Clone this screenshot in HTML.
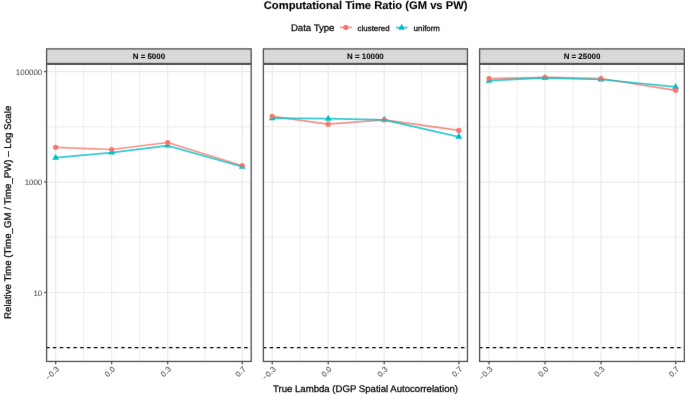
<!DOCTYPE html>
<html><head><meta charset="utf-8"><style>
html,body{margin:0;padding:0;background:#fff;width:685px;height:396px;overflow:hidden}
svg{display:block;font-family:"Liberation Sans",sans-serif;text-rendering:geometricPrecision}
</style></head><body>
<svg width="685" height="396" viewBox="0 0 685 396">
<defs><filter id="bl" color-interpolation-filters="sRGB" x="-5%" y="-5%" width="110%" height="110%"><feConvolveMatrix order="3" kernelMatrix="0.00276 0.04704 0.00276 0.04704 0.80077 0.04704 0.00276 0.04704 0.00276" edgeMode="duplicate" preserveAlpha="false"/></filter></defs>
<rect width="685" height="396" fill="#fff"/>
<g filter="url(#bl)">
<text transform="translate(365.60,8.80)" text-anchor="middle" font-weight="bold" font-size="11.2" fill="#000" stroke="#000" stroke-width="0.08">Computational Time Ratio (GM vs PW)</text>
<text transform="translate(290.90,30.60)" font-size="9.6" fill="#000" stroke="#000" stroke-width="0.25">Data Type</text>
<line x1="340.1" y1="27.4" x2="351.8" y2="27.4" stroke="#F8766D" stroke-width="1.7" stroke-opacity="0.8"/>
<circle cx="345.8" cy="27.4" r="2.55" fill="#F8766D"/>
<text transform="translate(357.60,30.60)" font-size="7.9" fill="#000" stroke="#000" stroke-width="0.25">clustered</text>
<line x1="396.0" y1="27.6" x2="407.5" y2="27.6" stroke="#00BFC4" stroke-width="1.7" stroke-opacity="0.8"/>
<polygon points="401.60,23.85 404.98,29.70 398.22,29.70" fill="#00BFC4"/>
<text transform="translate(413.60,30.60)" font-size="7.9" fill="#000" stroke="#000" stroke-width="0.25">uniform</text>
<line x1="83.63" y1="64.3" x2="83.63" y2="361.45" stroke="#EBEBEB" stroke-width="0.9"/>
<line x1="139.62" y1="64.3" x2="139.62" y2="361.45" stroke="#EBEBEB" stroke-width="0.9"/>
<line x1="204.94" y1="64.3" x2="204.94" y2="361.45" stroke="#EBEBEB" stroke-width="0.9"/>
<line x1="46.6" y1="126.81" x2="251.2" y2="126.81" stroke="#EBEBEB" stroke-width="0.9"/>
<line x1="46.6" y1="237.26" x2="251.2" y2="237.26" stroke="#EBEBEB" stroke-width="0.9"/>
<line x1="46.6" y1="347.71" x2="251.2" y2="347.71" stroke="#EBEBEB" stroke-width="0.9"/>
<line x1="55.63" y1="64.3" x2="55.63" y2="361.45" stroke="#EBEBEB" stroke-width="1.2"/>
<line x1="111.62" y1="64.3" x2="111.62" y2="361.45" stroke="#EBEBEB" stroke-width="1.2"/>
<line x1="167.61" y1="64.3" x2="167.61" y2="361.45" stroke="#EBEBEB" stroke-width="1.2"/>
<line x1="242.27" y1="64.3" x2="242.27" y2="361.45" stroke="#EBEBEB" stroke-width="1.2"/>
<line x1="46.6" y1="71.58" x2="251.2" y2="71.58" stroke="#EBEBEB" stroke-width="1.2"/>
<line x1="46.6" y1="182.03" x2="251.2" y2="182.03" stroke="#EBEBEB" stroke-width="1.2"/>
<line x1="46.6" y1="292.48" x2="251.2" y2="292.48" stroke="#EBEBEB" stroke-width="1.2"/>
<line x1="46.6" y1="347.60" x2="251.2" y2="347.60" stroke="#000" stroke-width="1.1" stroke-dasharray="3.415 3.415" stroke-dashoffset="0.49"/>
<polygon points="55.63,153.75 59.05,159.67 52.21,159.67" fill="#00BFC4"/>
<circle cx="55.63" cy="147.30" r="2.6" fill="#F8766D"/>
<polygon points="111.62,148.65 115.04,154.57 108.20,154.57" fill="#00BFC4"/>
<circle cx="111.62" cy="149.50" r="2.6" fill="#F8766D"/>
<polygon points="167.61,141.65 171.03,147.57 164.19,147.57" fill="#00BFC4"/>
<circle cx="167.61" cy="142.50" r="2.6" fill="#F8766D"/>
<polygon points="242.27,162.85 245.69,168.78 238.85,168.78" fill="#00BFC4"/>
<circle cx="242.27" cy="165.70" r="2.6" fill="#F8766D"/>
<polyline points="55.63,147.30 111.62,149.50 167.61,142.50 242.27,165.70" fill="none" stroke="#F8766D" stroke-width="1.7" stroke-opacity="0.8" stroke-linejoin="round"/>
<polyline points="55.63,157.70 111.62,152.60 167.61,145.60 242.27,166.80" fill="none" stroke="#00BFC4" stroke-width="1.7" stroke-opacity="0.8" stroke-linejoin="round"/>
<rect x="46.6" y="64.3" width="204.60" height="297.15" fill="none" stroke="#505050" stroke-width="1.3"/>
<rect x="46.6" y="48.9" width="204.60" height="14.60" fill="#D9D9D9" stroke="#505050" stroke-width="1.3"/>
<text transform="translate(148.90,59.20)" text-anchor="middle" font-weight="bold" font-size="7.9" fill="#000" stroke="#000" stroke-width="0.05">N = 5000</text>
<line x1="55.63" y1="361.45" x2="55.63" y2="364.15" stroke="#505050" stroke-width="1.3"/>
<text transform="translate(59.63,369.70) rotate(-45)" text-anchor="end" font-size="7.9" fill="#454545" stroke="#454545" stroke-width="0.05">−0.3</text>
<line x1="111.62" y1="361.45" x2="111.62" y2="364.15" stroke="#505050" stroke-width="1.3"/>
<text transform="translate(115.62,369.70) rotate(-45)" text-anchor="end" font-size="7.9" fill="#454545" stroke="#454545" stroke-width="0.05">0.0</text>
<line x1="167.61" y1="361.45" x2="167.61" y2="364.15" stroke="#505050" stroke-width="1.3"/>
<text transform="translate(171.61,369.70) rotate(-45)" text-anchor="end" font-size="7.9" fill="#454545" stroke="#454545" stroke-width="0.05">0.3</text>
<line x1="242.27" y1="361.45" x2="242.27" y2="364.15" stroke="#505050" stroke-width="1.3"/>
<text transform="translate(246.27,369.70) rotate(-45)" text-anchor="end" font-size="7.9" fill="#454545" stroke="#454545" stroke-width="0.05">0.7</text>
<line x1="300.23" y1="64.3" x2="300.23" y2="361.45" stroke="#EBEBEB" stroke-width="0.9"/>
<line x1="356.22" y1="64.3" x2="356.22" y2="361.45" stroke="#EBEBEB" stroke-width="0.9"/>
<line x1="421.54" y1="64.3" x2="421.54" y2="361.45" stroke="#EBEBEB" stroke-width="0.9"/>
<line x1="263.4" y1="126.81" x2="467.45" y2="126.81" stroke="#EBEBEB" stroke-width="0.9"/>
<line x1="263.4" y1="237.26" x2="467.45" y2="237.26" stroke="#EBEBEB" stroke-width="0.9"/>
<line x1="263.4" y1="347.71" x2="467.45" y2="347.71" stroke="#EBEBEB" stroke-width="0.9"/>
<line x1="272.23" y1="64.3" x2="272.23" y2="361.45" stroke="#EBEBEB" stroke-width="1.2"/>
<line x1="328.22" y1="64.3" x2="328.22" y2="361.45" stroke="#EBEBEB" stroke-width="1.2"/>
<line x1="384.21" y1="64.3" x2="384.21" y2="361.45" stroke="#EBEBEB" stroke-width="1.2"/>
<line x1="458.87" y1="64.3" x2="458.87" y2="361.45" stroke="#EBEBEB" stroke-width="1.2"/>
<line x1="263.4" y1="71.58" x2="467.45" y2="71.58" stroke="#EBEBEB" stroke-width="1.2"/>
<line x1="263.4" y1="182.03" x2="467.45" y2="182.03" stroke="#EBEBEB" stroke-width="1.2"/>
<line x1="263.4" y1="292.48" x2="467.45" y2="292.48" stroke="#EBEBEB" stroke-width="1.2"/>
<line x1="263.4" y1="347.60" x2="467.45" y2="347.60" stroke="#000" stroke-width="1.1" stroke-dasharray="3.415 3.415" stroke-dashoffset="0.49"/>
<polygon points="272.23,114.25 275.65,120.17 268.81,120.17" fill="#00BFC4"/>
<circle cx="272.23" cy="116.40" r="2.6" fill="#F8766D"/>
<polygon points="328.22,114.75 331.64,120.67 324.80,120.67" fill="#00BFC4"/>
<circle cx="328.22" cy="124.20" r="2.6" fill="#F8766D"/>
<polygon points="384.21,115.85 387.63,121.77 380.79,121.77" fill="#00BFC4"/>
<circle cx="384.21" cy="119.80" r="2.6" fill="#F8766D"/>
<polygon points="458.87,132.85 462.29,138.78 455.45,138.78" fill="#00BFC4"/>
<circle cx="458.87" cy="130.40" r="2.6" fill="#F8766D"/>
<polyline points="272.23,116.40 328.22,124.20 384.21,119.80 458.87,130.40" fill="none" stroke="#F8766D" stroke-width="1.7" stroke-opacity="0.8" stroke-linejoin="round"/>
<polyline points="272.23,118.20 328.22,118.70 384.21,119.80 458.87,136.80" fill="none" stroke="#00BFC4" stroke-width="1.7" stroke-opacity="0.8" stroke-linejoin="round"/>
<rect x="263.4" y="64.3" width="204.05" height="297.15" fill="none" stroke="#505050" stroke-width="1.3"/>
<rect x="263.4" y="48.9" width="204.05" height="14.60" fill="#D9D9D9" stroke="#505050" stroke-width="1.3"/>
<text transform="translate(365.42,59.20)" text-anchor="middle" font-weight="bold" font-size="7.9" fill="#000" stroke="#000" stroke-width="0.05">N = 10000</text>
<line x1="272.23" y1="361.45" x2="272.23" y2="364.15" stroke="#505050" stroke-width="1.3"/>
<text transform="translate(276.23,369.70) rotate(-45)" text-anchor="end" font-size="7.9" fill="#454545" stroke="#454545" stroke-width="0.05">−0.3</text>
<line x1="328.22" y1="361.45" x2="328.22" y2="364.15" stroke="#505050" stroke-width="1.3"/>
<text transform="translate(332.22,369.70) rotate(-45)" text-anchor="end" font-size="7.9" fill="#454545" stroke="#454545" stroke-width="0.05">0.0</text>
<line x1="384.21" y1="361.45" x2="384.21" y2="364.15" stroke="#505050" stroke-width="1.3"/>
<text transform="translate(388.21,369.70) rotate(-45)" text-anchor="end" font-size="7.9" fill="#454545" stroke="#454545" stroke-width="0.05">0.3</text>
<line x1="458.87" y1="361.45" x2="458.87" y2="364.15" stroke="#505050" stroke-width="1.3"/>
<text transform="translate(462.87,369.70) rotate(-45)" text-anchor="end" font-size="7.9" fill="#454545" stroke="#454545" stroke-width="0.05">0.7</text>
<line x1="517.03" y1="64.3" x2="517.03" y2="361.45" stroke="#EBEBEB" stroke-width="0.9"/>
<line x1="573.02" y1="64.3" x2="573.02" y2="361.45" stroke="#EBEBEB" stroke-width="0.9"/>
<line x1="638.34" y1="64.3" x2="638.34" y2="361.45" stroke="#EBEBEB" stroke-width="0.9"/>
<line x1="479.6" y1="126.81" x2="684.35" y2="126.81" stroke="#EBEBEB" stroke-width="0.9"/>
<line x1="479.6" y1="237.26" x2="684.35" y2="237.26" stroke="#EBEBEB" stroke-width="0.9"/>
<line x1="479.6" y1="347.71" x2="684.35" y2="347.71" stroke="#EBEBEB" stroke-width="0.9"/>
<line x1="489.03" y1="64.3" x2="489.03" y2="361.45" stroke="#EBEBEB" stroke-width="1.2"/>
<line x1="545.02" y1="64.3" x2="545.02" y2="361.45" stroke="#EBEBEB" stroke-width="1.2"/>
<line x1="601.01" y1="64.3" x2="601.01" y2="361.45" stroke="#EBEBEB" stroke-width="1.2"/>
<line x1="675.67" y1="64.3" x2="675.67" y2="361.45" stroke="#EBEBEB" stroke-width="1.2"/>
<line x1="479.6" y1="71.58" x2="684.35" y2="71.58" stroke="#EBEBEB" stroke-width="1.2"/>
<line x1="479.6" y1="182.03" x2="684.35" y2="182.03" stroke="#EBEBEB" stroke-width="1.2"/>
<line x1="479.6" y1="292.48" x2="684.35" y2="292.48" stroke="#EBEBEB" stroke-width="1.2"/>
<line x1="479.6" y1="347.60" x2="684.35" y2="347.60" stroke="#000" stroke-width="1.1" stroke-dasharray="3.415 3.415" stroke-dashoffset="0.49"/>
<polygon points="489.03,76.75 492.45,82.67 485.61,82.67" fill="#00BFC4"/>
<circle cx="489.03" cy="78.60" r="2.6" fill="#F8766D"/>
<polygon points="545.02,73.95 548.44,79.88 541.60,79.88" fill="#00BFC4"/>
<circle cx="545.02" cy="77.30" r="2.6" fill="#F8766D"/>
<polygon points="601.01,75.55 604.43,81.47 597.59,81.47" fill="#00BFC4"/>
<circle cx="601.01" cy="78.50" r="2.6" fill="#F8766D"/>
<polygon points="675.67,82.95 679.09,88.88 672.25,88.88" fill="#00BFC4"/>
<circle cx="675.67" cy="90.30" r="2.6" fill="#F8766D"/>
<polyline points="489.03,78.60 545.02,77.30 601.01,78.50 675.67,90.30" fill="none" stroke="#F8766D" stroke-width="1.7" stroke-opacity="0.8" stroke-linejoin="round"/>
<polyline points="489.03,80.70 545.02,77.90 601.01,79.50 675.67,86.90" fill="none" stroke="#00BFC4" stroke-width="1.7" stroke-opacity="0.8" stroke-linejoin="round"/>
<rect x="479.6" y="64.3" width="204.75" height="297.15" fill="none" stroke="#505050" stroke-width="1.3"/>
<rect x="479.6" y="48.9" width="204.75" height="14.60" fill="#D9D9D9" stroke="#505050" stroke-width="1.3"/>
<text transform="translate(581.98,59.20)" text-anchor="middle" font-weight="bold" font-size="7.9" fill="#000" stroke="#000" stroke-width="0.05">N = 25000</text>
<line x1="489.03" y1="361.45" x2="489.03" y2="364.15" stroke="#505050" stroke-width="1.3"/>
<text transform="translate(493.03,369.70) rotate(-45)" text-anchor="end" font-size="7.9" fill="#454545" stroke="#454545" stroke-width="0.05">−0.3</text>
<line x1="545.02" y1="361.45" x2="545.02" y2="364.15" stroke="#505050" stroke-width="1.3"/>
<text transform="translate(549.02,369.70) rotate(-45)" text-anchor="end" font-size="7.9" fill="#454545" stroke="#454545" stroke-width="0.05">0.0</text>
<line x1="601.01" y1="361.45" x2="601.01" y2="364.15" stroke="#505050" stroke-width="1.3"/>
<text transform="translate(605.01,369.70) rotate(-45)" text-anchor="end" font-size="7.9" fill="#454545" stroke="#454545" stroke-width="0.05">0.3</text>
<line x1="675.67" y1="361.45" x2="675.67" y2="364.15" stroke="#505050" stroke-width="1.3"/>
<text transform="translate(679.67,369.70) rotate(-45)" text-anchor="end" font-size="7.9" fill="#454545" stroke="#454545" stroke-width="0.05">0.7</text>
<line x1="44.1" y1="71.58" x2="46.3" y2="71.58" stroke="#505050" stroke-width="1.3"/>
<text transform="translate(42.20,74.76)" text-anchor="end" font-size="7.9" fill="#454545" stroke="#454545" stroke-width="0.05">100000</text>
<line x1="44.1" y1="182.03" x2="46.3" y2="182.03" stroke="#505050" stroke-width="1.3"/>
<text transform="translate(42.20,185.21)" text-anchor="end" font-size="7.9" fill="#454545" stroke="#454545" stroke-width="0.05">1000</text>
<line x1="44.1" y1="292.48" x2="46.3" y2="292.48" stroke="#505050" stroke-width="1.3"/>
<text transform="translate(42.20,295.66)" text-anchor="end" font-size="7.9" fill="#454545" stroke="#454545" stroke-width="0.05">10</text>
<text transform="translate(365.50,391.50)" text-anchor="middle" font-size="9.6" fill="#000" stroke="#000" stroke-width="0.25">True Lambda (DGP Spatial Autocorrelation)</text>
<text transform="translate(10.90,212.35) rotate(-90)" text-anchor="middle" font-size="9.66" fill="#000" stroke="#000" stroke-width="0.25">Relative Time (Time_GM / Time_PW) – Log Scale</text>
</g></svg>
</body></html>
